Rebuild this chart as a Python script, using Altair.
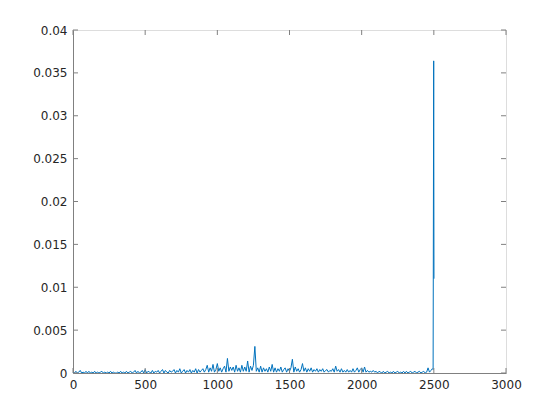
import altair as alt
import pandas as pd

# signal values in units of 1e-4, sampled every 10 along x (0..2490)
blocks = [
    [1, 0, 2, 0, 1, 3, 0, 1, 0, 2],
    [0, 2, 0, 1, 0, 2, 0, 1, 0, 1],
    [2, 0, 1, 0, 1, 0, 2, 0, 1, 0],
    [0, 1, 0, 2, 0, 1, 0, 2, 0, 1],
    [2, 0, 1, 3, 0, 2, 0, 1, 3, 0],
    [4, 0, 2, 1, 0, 3, 0, 2, 1, 3],
    [0, 2, 4, 0, 3, 1, 0, 3, 1, 2],
    [4, 0, 3, 1, 5, 0, 2, 4, 0, 3],
    [1, 4, 0, 3, 1, 5, 0, 4, 1, 3],
    [5, 1, 4, 9, 1, 6, 2, 10, 1, 4],
    [11, 2, 6, 1, 5, 8, 1, 17, 2, 7],
    [3, 7, 1, 9, 2, 6, 1, 9, 2, 7],
    [2, 14, 1, 8, 3, 9, 31, 2, 6, 1],
    [8, 1, 6, 2, 5, 1, 7, 2, 10, 1],
    [6, 1, 5, 2, 7, 1, 4, 6, 1, 5],
    [2, 6, 16, 1, 7, 2, 5, 1, 4, 11],
    [2, 6, 1, 5, 2, 6, 1, 4, 2, 5],
    [1, 4, 2, 5, 1, 3, 4, 1, 3, 2],
    [5, 1, 8, 2, 4, 1, 5, 1, 3, 1],
    [4, 1, 3, 1, 5, 1, 3, 6, 1, 4],
    [6, 1, 7, 1, 3, 1, 2, 1, 3, 1],
    [2, 0, 2, 1, 0, 2, 0, 1, 2, 0],
    [1, 0, 2, 0, 1, 2, 0, 1, 0, 2],
    [0, 2, 0, 1, 2, 0, 1, 2, 0, 1],
    [2, 0, 1, 2, 0, 1, 6, 1, 3, 5],
]
tail_x = [2495, 2499, 2501]
tail_v = [4, 364, 110]

x_ticks = [0, 500, 1000, 1500, 2000, 2500, 3000]
y_ticks = [0, 0.005, 0.01, 0.015, 0.02, 0.025, 0.03, 0.035, 0.04]

xs, vs = [], []
for bi, blk in enumerate(blocks):
    for j, v in enumerate(blk):
        xs.append(bi * 100 + j * 10)
        vs.append(v)
xs += tail_x
vs += tail_v
df = pd.DataFrame({"x": xs, "y": [v * 1e-4 for v in vs]})

W, H = 433, 343
FONT = "DejaVu Sans"
GRAY = "#808080"
TXT = "#262626"

xscale = alt.Scale(domain=[0, 3000], nice=False)
yscale = alt.Scale(domain=[0, 0.04], nice=False)

line = alt.Chart(df).mark_line(color="#0072BD", strokeWidth=1, clip=True).encode(
    x=alt.X("x:Q", scale=xscale, title=None,
            axis=alt.Axis(values=x_ticks, ticks=False, grid=False, domainColor=GRAY,
                          labelColor=TXT, labelFont=FONT, labelFontSize=12, labelPadding=6,
                          labelFlush=False, format="d")),
    y=alt.Y("y:Q", scale=yscale, title=None,
            axis=alt.Axis(values=y_ticks, ticks=False, grid=False, domainColor=GRAY,
                          labelColor=TXT, labelFont=FONT, labelFontSize=12, labelPadding=6,
                          labelFlush=False, format="~g")),
)

xt = pd.DataFrame({"x": x_ticks})
yt = pd.DataFrame({"y": y_ticks})

tick_b = alt.Chart(xt).mark_rule(color=GRAY).encode(
    x=alt.X("x:Q", scale=xscale), y=alt.value(H), y2=alt.value(H - 5))
tick_t = alt.Chart(xt).mark_rule(color=GRAY).encode(
    x=alt.X("x:Q", scale=xscale), y=alt.value(0), y2=alt.value(5))
tick_l = alt.Chart(yt).mark_rule(color=GRAY).encode(
    y=alt.Y("y:Q", scale=yscale), x=alt.value(0), x2=alt.value(5))
tick_r = alt.Chart(yt).mark_rule(color=GRAY).encode(
    y=alt.Y("y:Q", scale=yscale), x=alt.value(W), x2=alt.value(W - 5))

chart = alt.layer(line, tick_b, tick_t, tick_l, tick_r).properties(
    width=W, height=H,
    autosize=alt.AutoSizeParams(type="none"),
    padding={"left": 65, "top": 22, "right": 40, "bottom": 40},
).configure_view(stroke=GRAY, strokeWidth=1).configure(background="white")

chart.save("out.html", embed_options={"renderer": "svg", "actions": False})
